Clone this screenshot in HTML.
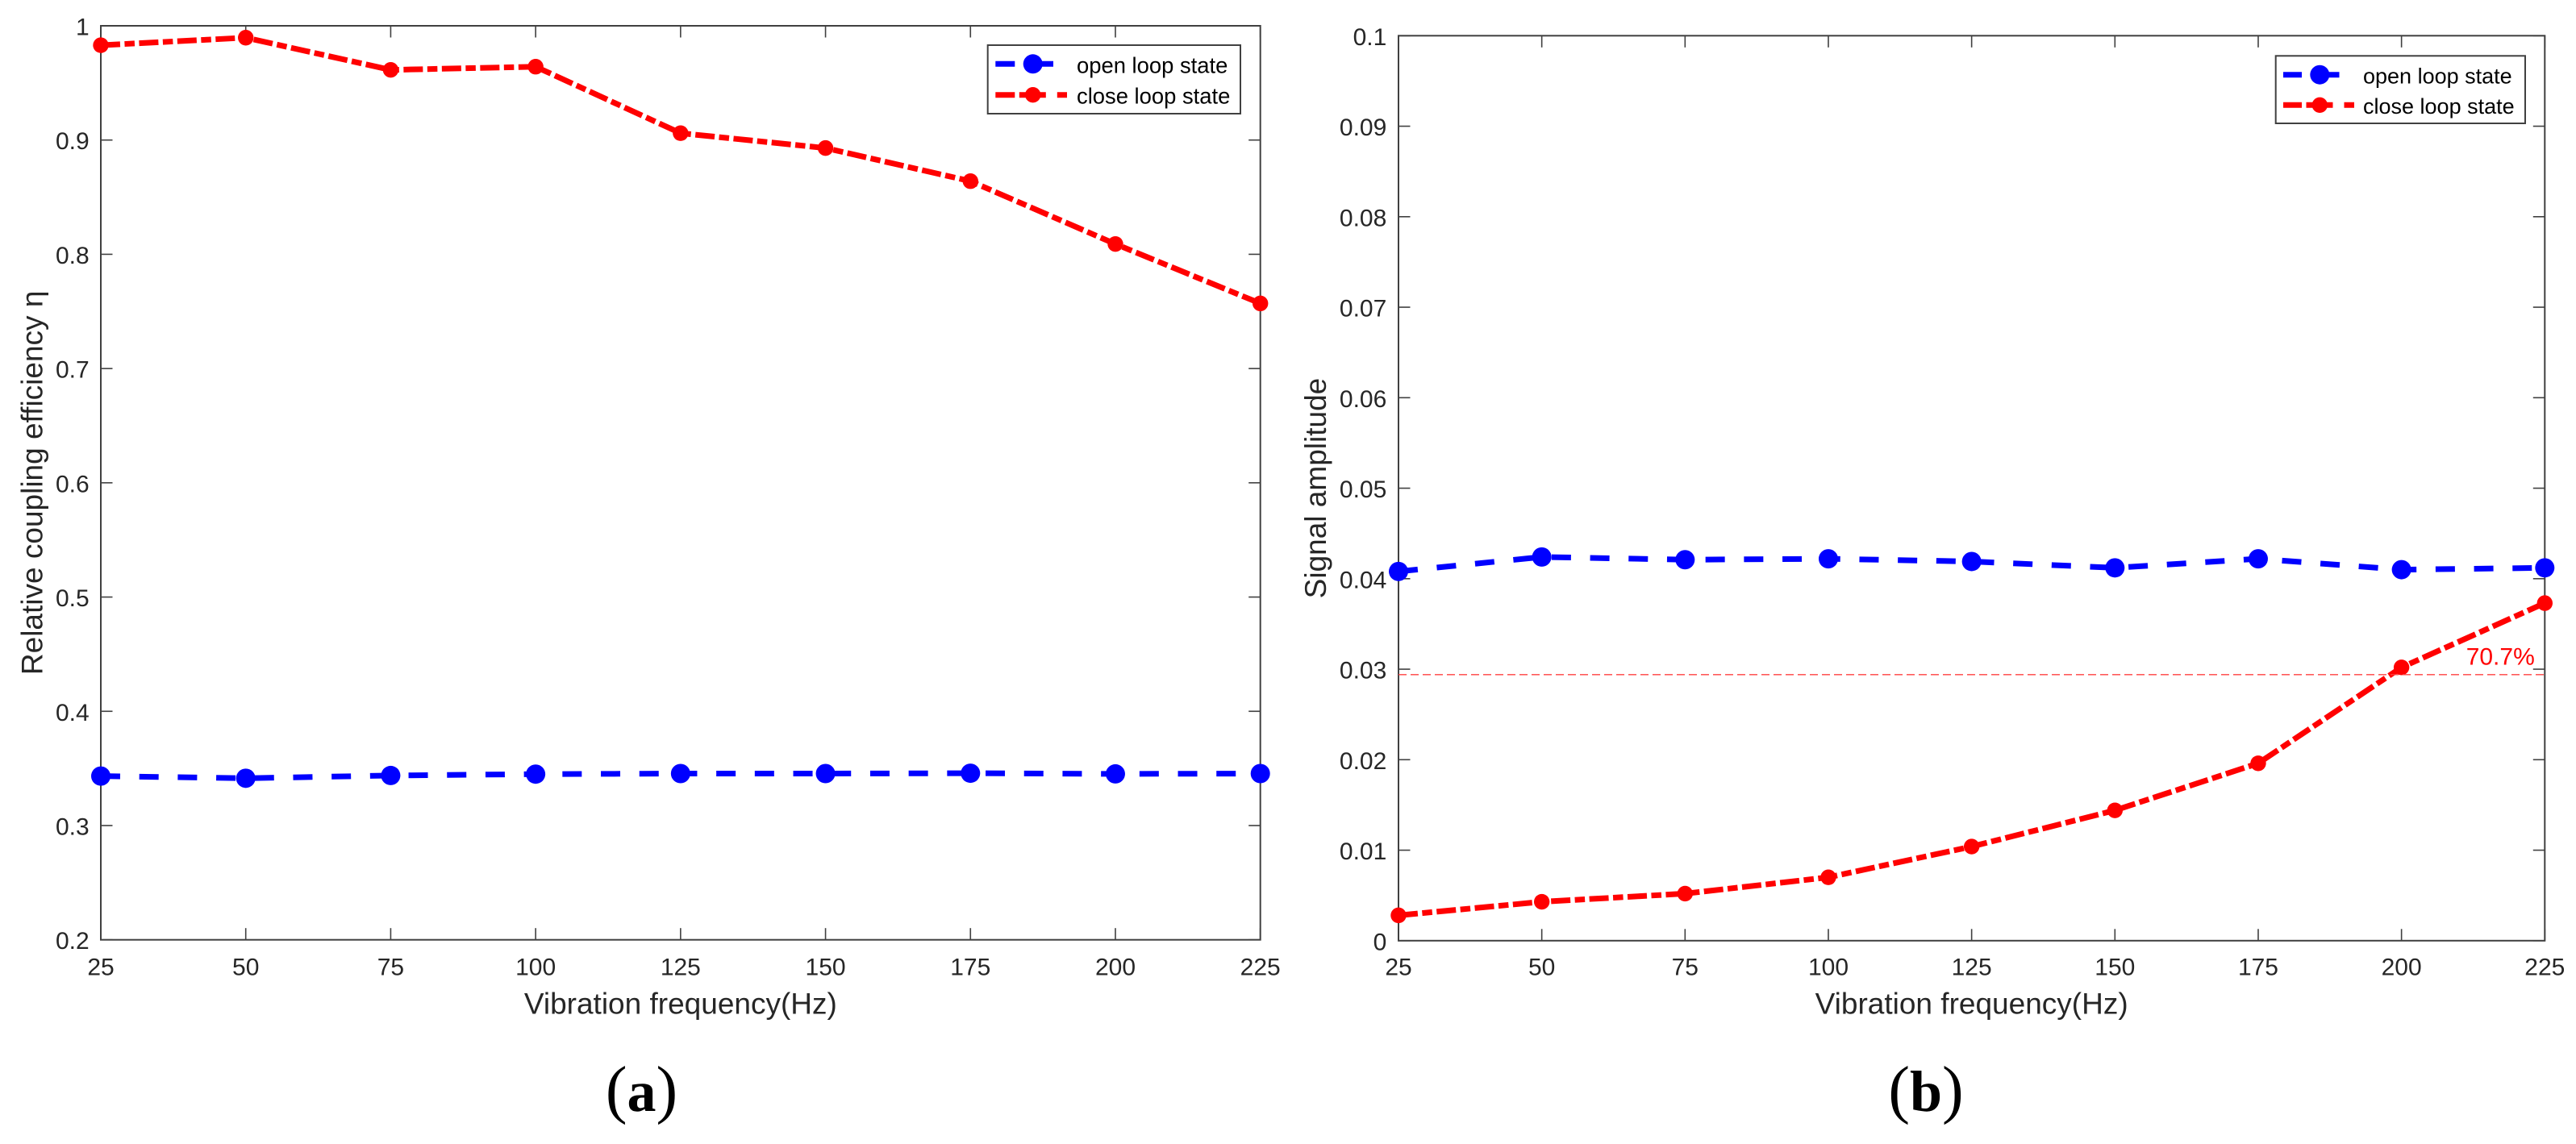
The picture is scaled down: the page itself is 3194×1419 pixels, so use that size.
<!DOCTYPE html>
<html lang="en">
<head>
<meta charset="utf-8">
<title>Coupling efficiency and signal amplitude versus vibration frequency</title>
<style>
html,body{margin:0;padding:0;background:#fff;}
svg{display:block;}
text{font-family:"Liberation Sans",Arial,sans-serif;fill:#262626;}
.tick-label,.axis-title{fill:#262626;}
.legend-text{fill:#000;}
.caption{font-family:"Liberation Serif","Times New Roman",serif;fill:#000;}
</style>
</head>
<body>
<svg id="figure" xmlns="http://www.w3.org/2000/svg" width="3194" height="1419" viewBox="0 0 3194 1419">
  <rect width="3194" height="1419" fill="#fff"/>
  <g id="panel-a"></g>
  <g id="panel-b"></g>

  <text class="caption" x="795.5" y="1378" text-anchor="middle" font-size="72"><tspan font-size="80">(</tspan><tspan font-weight="bold">a</tspan><tspan font-size="80">)</tspan></text>
  <text class="caption" x="2388" y="1378" text-anchor="middle" font-size="72"><tspan font-size="80">(</tspan><tspan font-weight="bold">b</tspan><tspan font-size="80">)</tspan></text>

  <g>
    <rect x="1224.7" y="56" width="313.3" height="85" fill="#fff" stroke="#404040" stroke-width="2"/>
    <line x1="1234.3" y1="79.3" x2="1306" y2="79.3" stroke="#0000ff" stroke-width="7" stroke-dasharray="24 23.7"/>
    <circle cx="1280.7" cy="79.3" r="12" fill="#0000ff"/>
    <text class="legend-text" x="1335" y="90.3" font-size="27.4">open loop state</text>
    <line x1="1234.3" y1="117.7" x2="1323" y2="117.7" stroke="#ff0000" stroke-width="7" stroke-dasharray="24 5.5 33 14"/>
    <circle cx="1280.7" cy="117.7" r="9.7" fill="#ff0000"/>
    <text class="legend-text" x="1335" y="128.3" font-size="27.4">close loop state</text>
  </g>

  <g>
    <rect x="2821.7" y="69.3" width="309.3" height="83.7" fill="#fff" stroke="#404040" stroke-width="2"/>
    <line x1="2831" y1="92.7" x2="2901" y2="92.7" stroke="#0000ff" stroke-width="7" stroke-dasharray="23 23.5"/>
    <circle cx="2876.3" cy="92.7" r="12" fill="#0000ff"/>
    <text class="legend-text" x="2930" y="103.3" font-size="27">open loop state</text>
    <line x1="2831" y1="130.3" x2="2919" y2="130.3" stroke="#ff0000" stroke-width="7" stroke-dasharray="23 5.5 33 14"/>
    <circle cx="2876.3" cy="130.3" r="9.7" fill="#ff0000"/>
    <text class="legend-text" x="2930" y="141" font-size="27">close loop state</text>
  </g>
</svg>
<script>
var frequencies = [25, 50, 75, 100, 125, 150, 175, 200, 225];

var panelAOpen = [0.3433, 0.3414, 0.3438, 0.3450, 0.3455, 0.3455, 0.3458, 0.3452, 0.3455];
var panelAClose = [0.983, 0.9896, 0.9614, 0.9642, 0.906, 0.893, 0.864, 0.809, 0.757];
var panelAYTicks = [0.2, 0.3, 0.4, 0.5, 0.6, 0.7, 0.8, 0.9, 1];

var panelBOpen = [0.0408, 0.0424, 0.0421, 0.0422, 0.0419, 0.0412, 0.0422, 0.0410, 0.0412];
var panelBClose = [0.0028, 0.0043, 0.0052, 0.0070, 0.0104, 0.0144, 0.0196, 0.0302, 0.0373];
var panelBYTicks = [0, 0.01, 0.02, 0.03, 0.04, 0.05, 0.06, 0.07, 0.08, 0.09, 0.1];
var panelBThreshold = [0.0294];
var panelBThresholdLabel = ['70.7%'];

var SVG_NS = 'http://www.w3.org/2000/svg';

function make(parent, tag, attrs, content) {
  var el = document.createElementNS(SVG_NS, tag);
  for (var key in attrs) { el.setAttribute(key, attrs[key]); }
  if (content !== undefined) { el.textContent = content; }
  parent.appendChild(el);
  return el;
}

function scale(domainMin, domainMax, rangeMin, rangeMax) {
  return function (v) {
    return rangeMin + (v - domainMin) / (domainMax - domainMin) * (rangeMax - rangeMin);
  };
}

function drawPanel(group, box, yTicks, series, yTitle, yTitleX, labelRight) {
  var x = scale(frequencies[0], frequencies[frequencies.length - 1], box.left, box.right);
  var y = scale(yTicks[0], yTicks[yTicks.length - 1], box.bottom, box.top);
  var tickLen = 14.5;
  var axisColor = '#404040';

  var frame = make(group, 'rect', {x: box.left, y: box.top, width: box.right - box.left, height: box.bottom - box.top, fill: 'none', stroke: axisColor, 'stroke-width': 2});
  
  

  frequencies.forEach(function (f) {
    var px = x(f);
    var bottomTick = make(group, 'line', {x1: px, y1: box.bottom, x2: px, y2: box.bottom - tickLen, stroke: axisColor, 'stroke-width': 1.6});
    
    
    var topTick = make(group, 'line', {x1: px, y1: box.top, x2: px, y2: box.top + tickLen, stroke: axisColor, 'stroke-width': 1.6});
    
    
    var label = make(group, 'text', {x: px, y: 1209.3, 'text-anchor': 'middle', 'font-size': 30, 'class': 'tick-label'}, String(f));
    
    
  });

  yTicks.forEach(function (t) {
    var py = y(t);
    var leftTick = make(group, 'line', {x1: box.left, y1: py, x2: box.left + tickLen, y2: py, stroke: axisColor, 'stroke-width': 1.6});
    
    
    var rightTick = make(group, 'line', {x1: box.right, y1: py, x2: box.right - tickLen, y2: py, stroke: axisColor, 'stroke-width': 1.6});
    
    
    var label = make(group, 'text', {x: labelRight, y: py + 11.5, 'text-anchor': 'end', 'font-size': 30, 'class': 'tick-label'}, String(t));
    
    
  });

  var midX = (box.left + box.right) / 2;
  var midY = (box.top + box.bottom) / 2;
  var xTitle = make(group, 'text', {x: midX, y: 1257.3, 'text-anchor': 'middle', 'font-size': 37, 'class': 'axis-title'}, 'Vibration frequency(Hz)');
  
  
  var yLabel = make(group, 'text', {x: yTitleX, y: midY, 'text-anchor': 'middle', 'font-size': 37, 'class': 'axis-title', transform: 'rotate(-90 ' + yTitleX + ' ' + midY + ')'}, yTitle);
  
  

  series.forEach(function (s) {
    var points = s.values.map(function (v, i) { return x(frequencies[i]) + ',' + y(v); }).join(' ');
    var line = make(group, 'polyline', {points: points, fill: 'none', stroke: s.color, 'stroke-width': 7, 'stroke-dasharray': s.dash});
    
    
    s.values.forEach(function (v, i) {
      var dot = make(group, 'circle', {cx: x(frequencies[i]), cy: y(v), r: s.radius, fill: s.color});
      
      
    });
  });

  return {x: x, y: y};
}

var panelAGroup = document.getElementById('panel-a');
drawPanel(panelAGroup, {left: 125, right: 1562.7, top: 32, bottom: 1165.7}, panelAYTicks, [
  {name: 'open-loop', values: panelAOpen, color: '#0000ff', dash: '24 23.7', radius: 12},
  {name: 'close-loop', values: panelAClose, color: '#ff0000', dash: '24 5.5 12.5 5.5', radius: 9.7}
], 'Relative coupling efficiency η', 52.3, 110.7);

var panelBGroup = document.getElementById('panel-b');
var panelBScales = drawPanel(panelBGroup, {left: 1734, right: 3155.3, top: 44.3, bottom: 1166.8}, panelBYTicks, [
  {name: 'open-loop', values: panelBOpen, color: '#0000ff', dash: '24 23.7', radius: 12},
  {name: 'close-loop', values: panelBClose, color: '#ff0000', dash: '24 5.5 12.5 5.5', radius: 9.7}
], 'Signal amplitude', 1644, 1719.3);

var thresholdY = panelBScales.y(panelBThreshold[0]);
var thresholdLine = make(panelBGroup, 'line', {x1: 1734, y1: thresholdY, x2: 3155.3, y2: thresholdY, stroke: '#ff4040', 'stroke-width': 1.4, 'stroke-dasharray': '10 5'});


var thresholdText = make(panelBGroup, 'text', {x: 3057.7, y: thresholdY - 12.3, 'font-size': 30, style: 'fill:#ff0000'}, panelBThresholdLabel[0]);


</script>
</body>
</html>
